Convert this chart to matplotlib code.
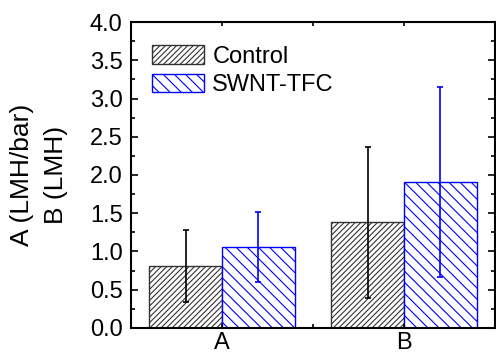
import numpy as np
import matplotlib.pyplot as plt
from matplotlib.ticker import MultipleLocator

plt.rcParams['font.family'] = ['Liberation Sans', 'DejaVu Sans']
plt.rcParams['hatch.linewidth'] = 0.8

categories = ['A', 'B']
control = [0.81, 1.38]
control_err = [0.47, 0.99]
swnt = [1.06, 1.91]
swnt_err = [0.46, 1.24]

x = np.arange(1, len(categories) + 1)
w = 0.4

fig = plt.figure(figsize=(4.96, 3.56), dpi=100)
ax = fig.add_axes([0.264, 0.079, 0.734, 0.859])

ax.bar(x - w / 2, control, w, color='white', edgecolor='#333333', hatch='//////',
       linewidth=1, label='Control')
ax.bar(x + w / 2, swnt, w, color='white', edgecolor='blue', hatch='\\\\\\',
       linewidth=1, label='SWNT-TFC')
ax.errorbar(x - w / 2, control, yerr=control_err, fmt='none', ecolor='black',
            elinewidth=1.2, capsize=2.5, capthick=1.2)
ax.errorbar(x + w / 2, swnt, yerr=swnt_err, fmt='none', ecolor='blue',
            elinewidth=1.2, capsize=2.5, capthick=1.2)

ax.set_xlim(0.5, 2.5)
ax.set_ylim(0, 4.0)
ax.set_xticks(x)
ax.set_xticklabels(categories)
ax.xaxis.set_minor_locator(MultipleLocator(0.5))
ax.yaxis.set_major_locator(MultipleLocator(0.5))
ax.yaxis.set_minor_locator(MultipleLocator(0.25))
ax.tick_params(which='both', direction='in', top=True, right=True, labelsize=17, pad=6)
ax.tick_params(which='major', length=5, width=1.2)
ax.tick_params(which='minor', length=3, width=1.2)
ax.tick_params(axis='x', which='both', length=3, pad=3)
for s in ax.spines.values():
    s.set_linewidth(1.5)

ax.set_ylabel('A (LMH/bar)\nB (LMH)', fontsize=19, labelpad=16, linespacing=1.5)

ax.legend(loc='upper left', frameon=False, fontsize=17, handlelength=2.2,
          handleheight=0.85, borderaxespad=0, borderpad=0, labelspacing=0.25,
          handletextpad=0.35, bbox_to_anchor=(0.058, 0.925))

fig.savefig('out.png', dpi=100)
